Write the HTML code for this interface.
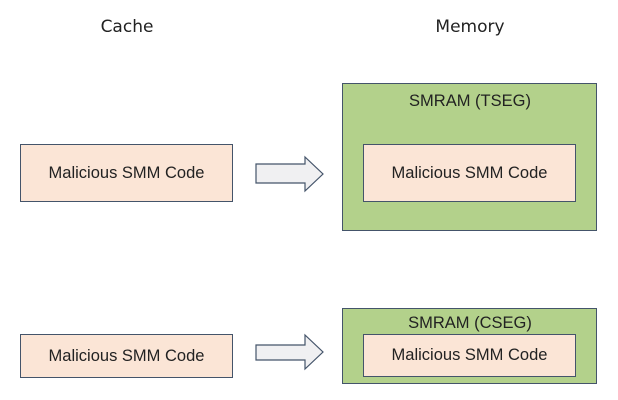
<!DOCTYPE html>
<html><head><style>
body{margin:0;width:618px;height:400px;background:#fff;position:relative;overflow:hidden;font-family:"Liberation Sans",sans-serif}
.t{position:absolute;font-family:"DejaVu Sans",sans-serif;font-size:17px;color:#222;transform:translateX(-50%);white-space:nowrap}
.b{position:absolute;box-sizing:border-box;border:1.5px solid #44546a;background:#fbe5d6;display:flex;align-items:center;justify-content:center;font-size:16.5px;color:#222}
.g{position:absolute;box-sizing:border-box;border:1.5px solid #44546a;background:#b3d18b}
.l{position:absolute;font-size:16.5px;color:#222;transform:translateX(-50%);white-space:nowrap}
</style></head><body>
<div class="t" style="left:127px;top:17px">Cache</div>
<div class="t" style="left:470px;top:17px">Memory</div>
<div class="b" style="left:20px;top:144px;width:213px;height:58px">Malicious SMM Code</div>
<div class="g" style="left:342px;top:83px;width:255px;height:148px"></div>
<div class="l" style="left:470px;top:92px">SMRAM (TSEG)</div>
<div class="b" style="left:363px;top:144px;width:213px;height:58px">Malicious SMM Code</div>
<div class="b" style="left:20px;top:334px;width:213px;height:44px">Malicious SMM Code</div>
<div class="g" style="left:342px;top:308px;width:255px;height:76px"></div>
<div class="l" style="left:470px;top:314px">SMRAM (CSEG)</div>
<div class="b" style="left:363px;top:334px;width:213px;height:43px">Malicious SMM Code</div>
<svg width="618" height="400" style="position:absolute;left:0;top:0">
<polygon points="256,164 305,164 305,157 323,174 305,191 305,183 256,183" fill="#f0f0f2" stroke="#44546a" stroke-width="1.2"/>
<polygon points="256,345 305,345 305,335 323,352 305,369 305,360 256,360" fill="#f0f0f2" stroke="#44546a" stroke-width="1.2"/>
</svg>
</body></html>
